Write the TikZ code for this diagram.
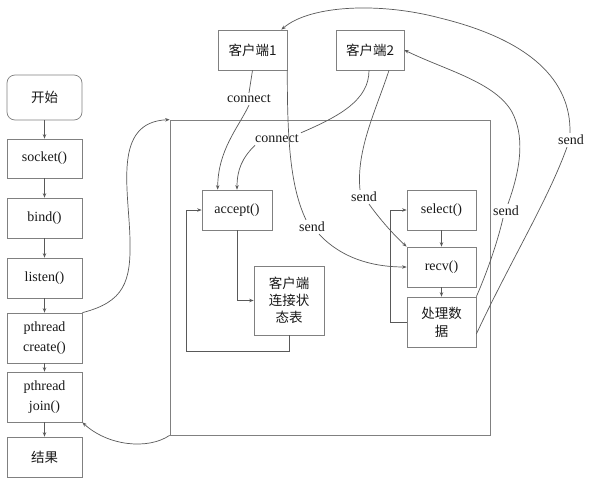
\documentclass[tikz,border=0pt]{standalone}
\usepackage{fontspec}
\setmainfont{Liberation Serif}
\newfontfamily\cjk{Noto Sans CJK SC}
\usetikzlibrary{arrows.meta}
\begin{document}
\begin{tikzpicture}[x=1pt,y=-1pt,
  box/.style={draw=black!50, line width=0.7pt, inner sep=0pt, align=center,
    font=\fontsize{14}{20}\selectfont, text=black!90},
  cbox/.style={box, font=\cjk\fontsize{13.5}{17}\selectfont},
  lbl/.style={fill=white, inner sep=2pt, font=\fontsize{14}{16}\selectfont, text=black!90},
  con/.style={draw=black!65, line width=0.7pt},
  arr/.style={con, -{Stealth[length=4.5pt,width=3.5pt]}}
]
\useasboundingbox (0,0) rectangle (595,485);
\fill[white] (0,0) rectangle (595,485);

% big thread box
\node[draw=black!50, line width=0.7pt, minimum width=320pt, minimum height=315pt, inner sep=0pt] (big) at (330,277.5) {};

% left column
\node[cbox, rounded corners=8pt, minimum width=75pt, minimum height=45pt] (start) at (44.5,97.5) {开始};
\node[box, minimum width=75pt, minimum height=39pt] (socket) at (44.5,158.5) {socket()};
\node[box, minimum width=75pt, minimum height=40pt] (bind) at (44.5,218) {bind()};
\node[box, minimum width=75pt, minimum height=40pt] (listen) at (44.5,278) {listen()};
\node[box, minimum width=75pt, minimum height=50pt] (create) at (44.5,338) {pthread\\create()};
\node[box, minimum width=75pt, minimum height=50pt] (join) at (44.5,397) {pthread\\join()};
\node[cbox, minimum width=75pt, minimum height=40pt] (result) at (44.5,457) {结果};

% clients
\node[cbox, minimum width=69pt, minimum height=40pt] (c1) at (252.5,50) {客户端1};
\node[cbox, minimum width=68pt, minimum height=40pt] (c2) at (370,50) {客户端2};

% inner boxes
\node[box, minimum width=70pt, minimum height=40pt] (accept) at (237,210) {accept()};
\node[cbox, minimum width=70pt, minimum height=69pt] (table) at (289,300.5) {客户端\\连接状\\态表};
\node[box, minimum width=69pt, minimum height=40pt] (select) at (441.5,210) {select()};
\node[box, minimum width=69pt, minimum height=40pt] (recv) at (441.5,267) {recv()};
\node[cbox, minimum width=69pt, minimum height=50pt, font=\cjk\fontsize{13.5}{18}\selectfont] (proc) at (441.5,322) {处理数\\据};

% labels
\node[lbl] (l1) at (249,99) {connect};
\node[lbl] (l2) at (277,139) {connect};
\node[lbl] (s1) at (312,227) {send};
\node[lbl] (s2) at (364,197) {send};
\node[lbl] (s3) at (506,211) {send};
\node[lbl] (s4) at (571,140) {send};

% main flow
\draw[arr] (start) -- (socket);
\draw[arr] (socket) -- (bind);
\draw[arr] (bind) -- (listen);
\draw[arr] (listen) -- (create);
\draw[arr] (create) -- (join);
\draw[arr] (join) -- (result);

\draw[arr] (create.north east) .. controls (124,302) and (131,282) .. (130,240)
  .. controls (129,190) and (112,122) .. (big.north west);
\draw[arr] (big.south west) .. controls (148,450) and (108,446) .. (join.south east);

% connect
\draw[con] (c1.south) -- (l1.north);
\draw[arr] (l1.south) .. controls (238,128) and (218,150) .. ([xshift=16pt]accept.north west);
\draw[con] ([xshift=-1pt]c2.south) .. controls (369,100) and (340,116) .. (l2.north east);
\draw[arr] ([xshift=2pt]l2.south west) .. controls (242,158) and (237,170) .. (accept.north);

% client sends
\draw[con] (c1.south east) .. controls (287,150) and (292,190) .. ([xshift=-6pt]s1.north);
\draw[arr] ([xshift=7pt]s1.south) .. controls (345,262) and (380,267) .. (recv.west);
\draw[con] ([xshift=19pt]c2.south) .. controls (376,110) and (356,150) .. ([xshift=-4pt]s2.north);
\draw[arr] ([xshift=5pt]s2.south) .. controls (382,222) and (395,236) .. (recv.north west);

% inner loops
\draw[arr] (accept.south) |- (table.west);
\draw[arr] (table.south) |- (186,351) |- (accept.west);
\draw[arr] (select) -- (recv);
\draw[arr] (recv) -- (proc);
\draw[arr] (proc.west) -- ([xshift=-16pt]proc.west) |- (select.west);

% server sends
\draw[con] (proc.north east) .. controls (488,270) and (498,240) .. ([xshift=-3pt]s3.south);
\draw[arr] ([xshift=2pt]s3.north) .. controls (522,165) and (524,135) .. (512,112)
  .. controls (495,82) and (445,70) .. (c2.east);
\draw[con] ([yshift=-12pt]proc.east) .. controls (510,262) and (548,200) .. ([xshift=-4pt]s4.south);
\draw[arr] ([xshift=-1pt]s4.north) .. controls (571,80) and (530,40) .. (440,18)
  .. controls (380,2) and (310,5) .. ([xshift=-6pt]c1.north east);
\end{tikzpicture}
\end{document}
